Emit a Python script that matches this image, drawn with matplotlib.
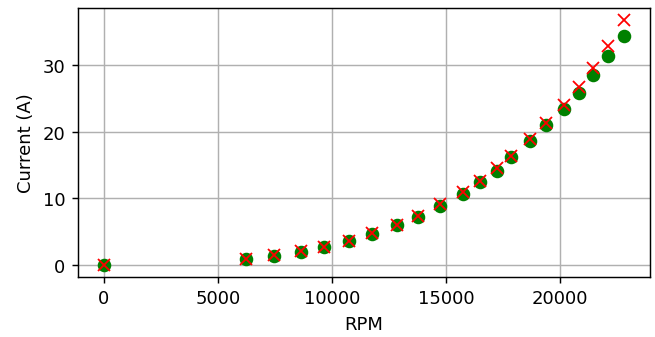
import matplotlib
matplotlib.use("Agg")
import matplotlib.pyplot as plt

rpm = [0, 6230, 7470, 8650, 9650, 10740, 11760, 12850, 13770, 14740,
       15730, 16490, 17240, 17850, 18690, 19400, 20160, 20840, 21450, 22100, 22800]
current_measured = [0, 0.9, 1.3, 1.9, 2.6, 3.5, 4.6, 5.9, 7.2, 8.9,
                    10.6, 12.4, 14.1, 16.2, 18.6, 21.0, 23.5, 25.9, 28.6, 31.5, 34.5]
current_model = [0, 0.9, 1.4, 2.0, 2.7, 3.6, 4.7, 6.0, 7.3, 9.1,
                 11.0, 12.6, 14.5, 16.3, 18.9, 21.3, 24.1, 26.8, 29.6, 32.9, 36.8]
yticks = [0, 10, 20, 30]

# drawn at a higher dpi so everything is a bit larger, like the reference
fig = plt.figure(figsize=(6.55 / 1.3, 3.38 / 1.3), dpi=130)
ax = fig.add_axes([0.119, 0.178, 0.873, 0.795])

ax.plot(rpm, current_measured, 'o', color='green', markersize=6.5)
ax.plot(rpm, current_model, 'x', color='red', markersize=6.5)

ax.set_yticks(yticks)
ax.set_xlabel('RPM')
ax.set_ylabel('Current (A)')
ax.grid(True)

fig.savefig('out.png', dpi=130)
